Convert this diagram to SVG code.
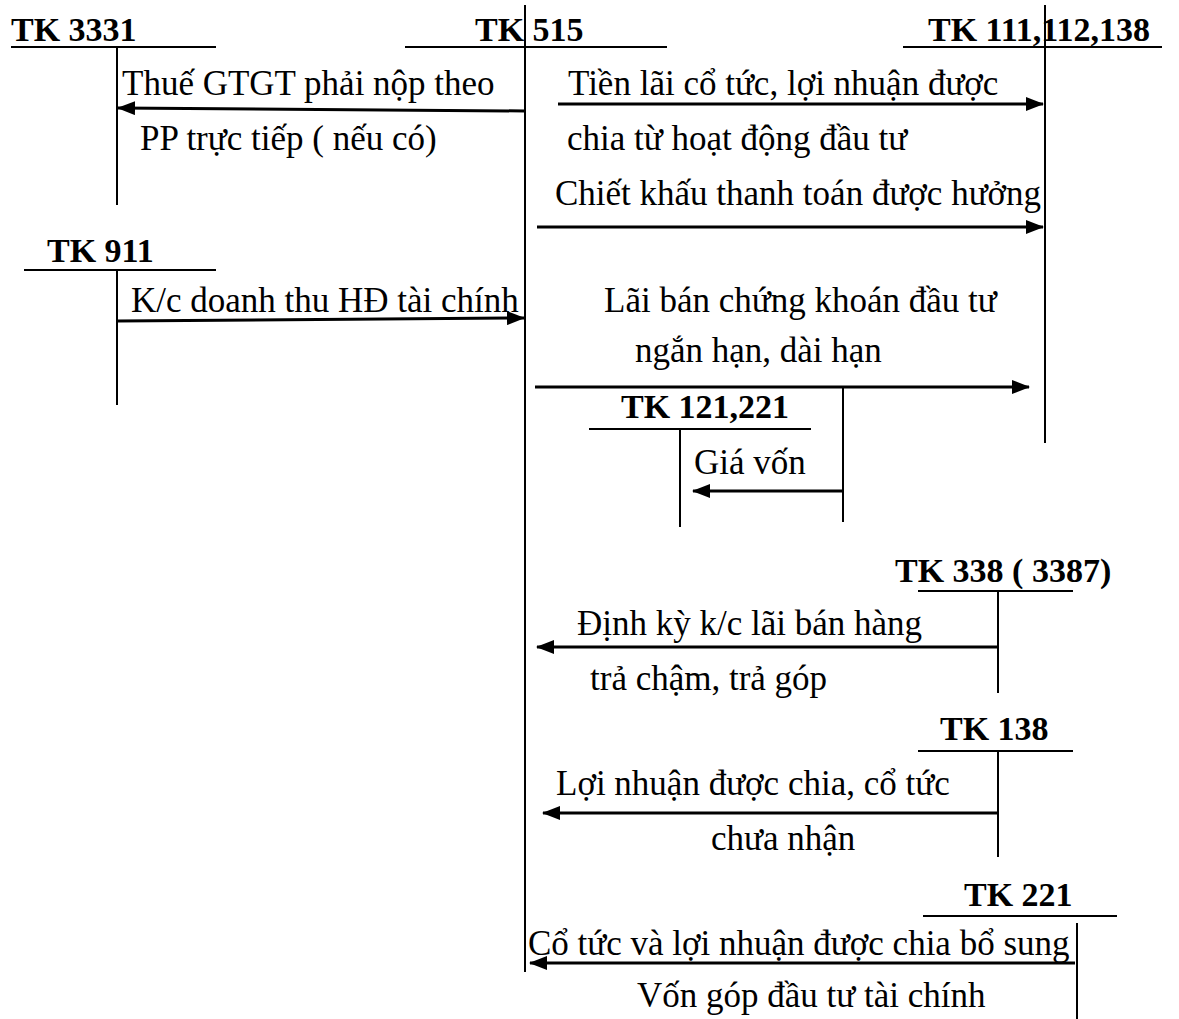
<svg xmlns="http://www.w3.org/2000/svg" width="1179" height="1019" viewBox="0 0 1179 1019">
  <style>
    .bg { fill: #ffffff; }
    .t { font-family: "Liberation Serif", "Times New Roman", serif; font-size: 35px; fill: #000; }
    .h { font-family: "Liberation Serif", "Times New Roman", serif; font-size: 34px; font-weight: bold; fill: #000; }
    .ln { stroke: #000; stroke-width: 2; fill: none; }
    .ar { stroke: #000; stroke-width: 3; fill: none; marker-end: url(#head); }
  </style>
  <defs>
    <marker id="head" markerUnits="userSpaceOnUse" markerWidth="18" markerHeight="14" refX="17" refY="7" orient="auto">
      <path d="M0,0 L18,7 L0,14 Z" fill="#000"/>
    </marker>
  </defs>
  <rect class="bg" x="0" y="0" width="1179" height="1019"/>

  <!-- T-accounts -->
  <g id="tk3331">
    <text class="h" x="11" y="41">TK 3331</text>
    <line class="ln" x1="11" y1="47" x2="216" y2="47"/>
    <line class="ln" x1="117" y1="47" x2="117" y2="205"/>
  </g>
  <g id="tk515">
    <text class="h" x="475" y="41">TK 515</text>
    <line class="ln" x1="405" y1="47" x2="667" y2="47"/>
    <line class="ln" x1="525" y1="5" x2="525" y2="972"/>
  </g>
  <g id="tk111">
    <text class="h" x="928" y="41">TK 111,112,138</text>
    <line class="ln" x1="903" y1="47" x2="1162" y2="47"/>
    <line class="ln" x1="1045" y1="5" x2="1045" y2="443"/>
  </g>
  <g id="tk911">
    <text class="h" x="47" y="262">TK 911</text>
    <line class="ln" x1="24" y1="270" x2="216" y2="270"/>
    <line class="ln" x1="117" y1="270" x2="117" y2="405"/>
  </g>
  <g id="tk121">
    <text class="h" x="621" y="418">TK 121,221</text>
    <line class="ln" x1="589" y1="429" x2="811" y2="429"/>
    <line class="ln" x1="680" y1="429" x2="680" y2="527"/>
  </g>
  <g id="tk3387">
    <text class="h" x="895" y="582">TK 338 ( 3387)</text>
    <line class="ln" x1="918" y1="591" x2="1073" y2="591"/>
    <line class="ln" x1="998" y1="591" x2="998" y2="693"/>
  </g>
  <g id="tk138">
    <text class="h" x="940" y="740">TK 138</text>
    <line class="ln" x1="918" y1="751" x2="1073" y2="751"/>
    <line class="ln" x1="998" y1="751" x2="998" y2="857"/>
  </g>
  <g id="tk221">
    <text class="h" x="964" y="906">TK 221</text>
    <line class="ln" x1="923" y1="916" x2="1117" y2="916"/>
    <line class="ln" x1="1077" y1="923" x2="1077" y2="1019"/>
  </g>

  <!-- Entries -->
  <g id="connectors">
    <line class="ar" x1="525" y1="111" x2="118" y2="108"/>
    <line class="ar" x1="558" y1="104" x2="1043" y2="104"/>
    <line class="ar" x1="537" y1="227" x2="1043" y2="227"/>
    <line class="ar" x1="117" y1="321" x2="524" y2="318"/>
    <line class="ar" x1="535" y1="387" x2="1029" y2="387"/>
    <line class="ln" x1="843" y1="387" x2="843" y2="522"/>
    <line class="ar" x1="843" y1="491" x2="693" y2="491"/>
    <line class="ar" x1="998" y1="647" x2="537" y2="647"/>
    <line class="ar" x1="998" y1="813" x2="543" y2="813"/>
    <line class="ar" x1="1075" y1="963" x2="530" y2="963"/>
  </g>

  <!-- Entry labels -->
  <g id="labels">
    <text class="t" x="122" y="95">Thuế GTGT phải nộp theo</text>
    <text class="t" x="140" y="150">PP trực tiếp ( nếu có)</text>
    <text class="t" x="568" y="95">Tiền lãi cổ tức, lợi nhuận được</text>
    <text class="t" x="567" y="150">chia từ hoạt động đầu tư</text>
    <text class="t" x="555" y="205">Chiết khấu thanh toán được hưởng</text>
    <text class="t" x="131" y="312">K/c doanh thu HĐ tài chính</text>
    <text class="t" x="604" y="312">Lãi bán chứng khoán đầu tư</text>
    <text class="t" x="635" y="362">ngắn hạn, dài hạn</text>
    <text class="t" x="694" y="474">Giá vốn</text>
    <text class="t" x="577" y="635">Định kỳ k/c lãi bán hàng</text>
    <text class="t" x="590" y="690">trả chậm, trả góp</text>
    <text class="t" x="556" y="795">Lợi nhuận được chia, cổ tức</text>
    <text class="t" x="711" y="850">chưa nhận</text>
    <text class="t" x="528" y="955">Cổ tức và lợi nhuận được chia bổ sung</text>
    <text class="t" x="637" y="1007">Vốn góp đầu tư tài chính</text>
  </g>
</svg>
